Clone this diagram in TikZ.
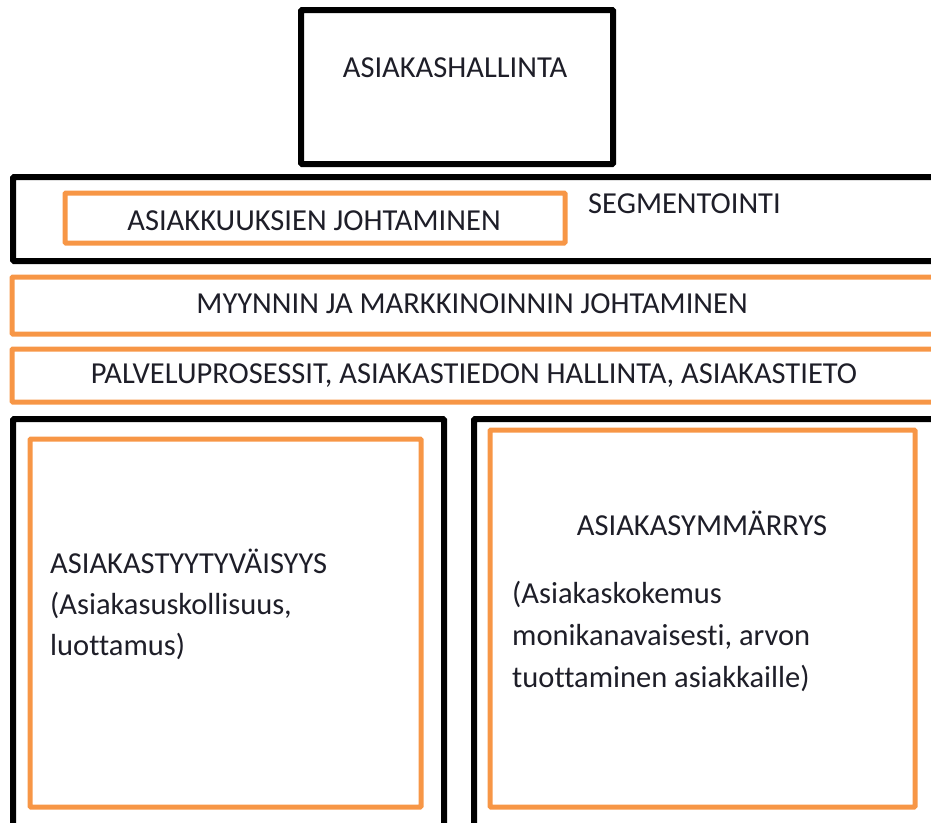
\documentclass[tikz,border=0pt]{standalone}
\usepackage{fontspec}
\setmainfont[Ligatures=NoCommon]{Carlito}
\definecolor{boxorange}{HTML}{F79646}
\definecolor{txt}{HTML}{1E1E28}
\begin{document}
\begin{tikzpicture}[x=1pt,y=-1pt,
  blackbox/.style={draw=black,line width=6pt,rounded corners=1pt},
  orangebox/.style={draw=boxorange,line width=5pt,rounded corners=1pt},
  lbl/.style={inner sep=0pt,text=txt,font=\fontsize{30.5}{41}\selectfont},
  para/.style={lbl,align=left}]
\useasboundingbox (0,0) rectangle (931,822);
\clip (0,0) rectangle (931,822);
% boxes
\draw[blackbox] (301,10) rectangle (613,164);
\draw[blackbox] (13,177) rectangle (960,261);
\draw[orangebox] (65,193) rectangle (565,243);
\draw[orangebox] (12,277) rectangle (960,334);
\draw[orangebox] (12,349) rectangle (960,402);
\draw[blackbox] (13,419) rectangle (444,860);
\draw[orangebox] (30,439) rectangle (421,807);
\draw[blackbox] (474,419) rectangle (960,860);
\draw[orangebox] (490,430) rectangle (915,807);
% texts
\node[lbl,anchor=base] (hallinta) at (455,77) {ASIAKASHALLINTA};
\node[lbl,anchor=base] (johtaminen) at (314,230) {ASIAKKUUKSIEN JOHTAMINEN};
\node[lbl,anchor=base west] (segment) at (588,213) {SEGMENTOINTI};
\node[lbl,anchor=base] (myynti) at (472,313) {MYYNNIN JA MARKKINOINNIN JOHTAMINEN};
\node[lbl,anchor=base] (palvelu) at (474,383) {PALVELUPROSESSIT, ASIAKASTIEDON HALLINTA, ASIAKASTIETO};
\node[para,anchor=base west] (tyyt) at (50,655) {ASIAKASTYYTYVÄISYYS\\(Asiakasuskollisuus,\\luottamus)};
\node[lbl,anchor=base] (ymm) at (702,535) {ASIAKASYMMÄRRYS};
\node[para,anchor=base west,font=\fontsize{30.5}{42}\selectfont] (kokemus) at (512,687) {(Asiakaskokemus\\monikanavaisesti, arvon\\tuottaminen asiakkaille)};
\end{tikzpicture}
\end{document}
